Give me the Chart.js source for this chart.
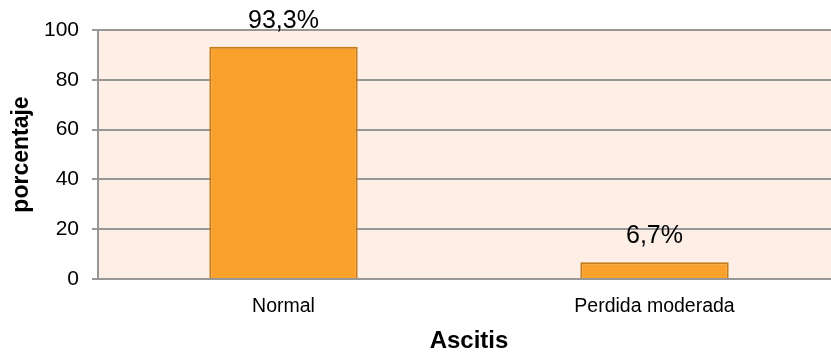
<!DOCTYPE html>
<html>
<head>
<meta charset="utf-8">
<title>Ascitis</title>
<script src="https://cdn.jsdelivr.net/npm/chart.js@4"></script>
<style>
  html, body { margin: 0; padding: 0; background: #ffffff; overflow: hidden; }
  #wrap { width: 831px; height: 356px; overflow: hidden; }
  canvas { display: block; }
</style>
</head>
<body>
<div id="wrap"><canvas id="chart" width="842" height="356"></canvas></div>
<script>
// Categories and percentages
const categories = ['Normal', 'Perdida moderada'];
const percentages = [93.3, 6.7];
const yTicks = [0, 20, 40, 60, 80, 100];
const xTitle = 'Ascitis';
const yTitle = 'porcentaje';

const FONT = "'Liberation Sans', Arial, sans-serif";
const GRID = '#979797';

// Peach plot background
const plotBackground = {
  id: 'plotBackground',
  beforeDraw(chart) {
    const { ctx, chartArea: a } = chart;
    ctx.save();
    ctx.fillStyle = '#FDEFE6';
    ctx.fillRect(a.left, a.top, a.right - a.left, a.bottom - a.top);
    ctx.restore();
  }
};

// Percentage labels above each bar
const valueLabels = {
  id: 'valueLabels',
  afterDatasetsDraw(chart) {
    const { ctx } = chart;
    const meta = chart.getDatasetMeta(0);
    ctx.save();
    ctx.font = '25px ' + FONT;
    ctx.fillStyle = '#000000';
    ctx.textAlign = 'center';
    ctx.textBaseline = 'middle';
    meta.data.forEach((bar, i) => {
      const v = chart.data.datasets[0].data[i];
      ctx.fillText(v.toFixed(1).replace('.', ',') + '%', bar.x, bar.y - 26);
    });
    ctx.restore();
  }
};

new Chart(document.getElementById('chart'), {
  type: 'bar',
  data: {
    labels: categories,
    datasets: [{
      data: percentages,
      backgroundColor: '#F9A12B',
      borderColor: '#C47B1C',
      borderWidth: 2,
      barPercentage: 0.4,
      categoryPercentage: 1.0
    }]
  },
  options: {
    responsive: false,
    animation: false,
    devicePixelRatio: 1,
    layout: { padding: { top: 30, right: 2, left: 0, bottom: 0 } },
    plugins: { legend: { display: false }, tooltip: { enabled: false } },
    scales: {
      x: {
        grid: { display: false, drawTicks: false },
        border: { display: true, color: GRID, width: 2 },
        ticks: { color: '#000000', font: { family: FONT, size: 19.5 }, padding: 16 },
        title: {
          display: true, text: xTitle, color: '#000000',
          font: { family: FONT, size: 24, weight: 'bold' },
          padding: { top: 0, bottom: 0 }
        },
        afterFit(scale) { scale.height = 77; }
      },
      y: {
        min: 0, max: 100,
        afterBuildTicks(scale) { scale.ticks = yTicks.map(v => ({ value: v })); },
        grid: { color: GRID, lineWidth: 2, tickLength: 6 },
        border: { display: true, color: GRID, width: 2 },
        ticks: { color: '#000000', font: { family: FONT, size: 21 }, padding: 13 },
        title: {
          display: true, text: yTitle, color: '#000000',
          font: { family: FONT, size: 23, weight: 'bold' },
          padding: { top: 8, bottom: 0 }
        },
        afterFit(scale) { scale.width = 98; }
      }
    }
  },
  plugins: [plotBackground, valueLabels]
});
</script>
</body>
</html>
